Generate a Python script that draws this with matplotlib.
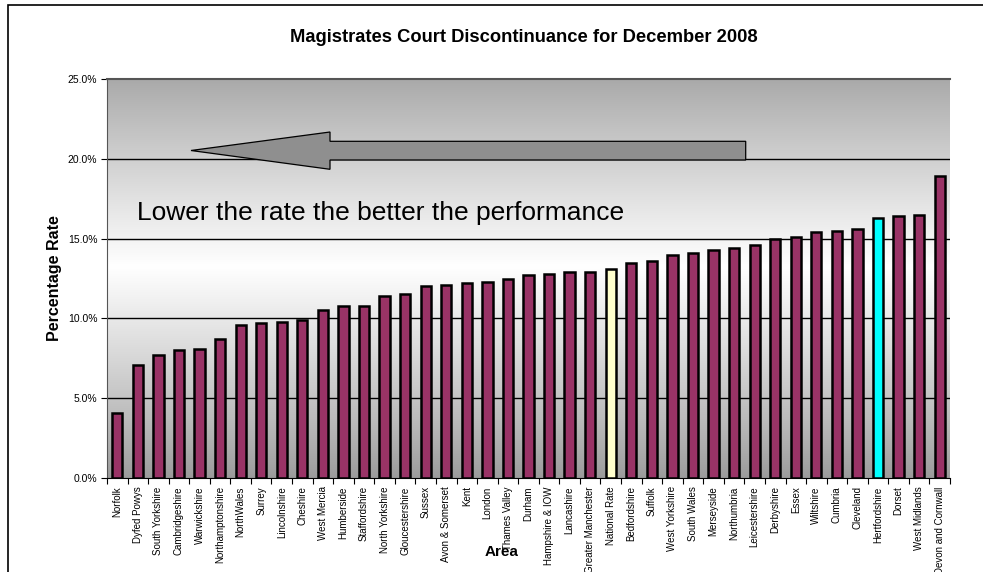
import numpy as np
import matplotlib.pyplot as plt
from matplotlib.patches import Polygon, Rectangle
from matplotlib.ticker import FuncFormatter, FixedLocator

plt.rcParams['font.family'] = ['Liberation Sans', 'DejaVu Sans']

# 数据：各地区的撤诉率（%）
areas = ["Norfolk", "Dyfed Powys", "South Yorkshire", "Cambridgeshire", "Warwickshire",
         "Northamptonshire", "NorthWales", "Surrey", "Lincolnshire", "Cheshire",
         "West Mercia", "Humberside", "Staffordshire", "North Yorkshire", "Gloucestershire",
         "Sussex", "Avon & Somerset", "Kent", "London", "Thames Valley",
         "Durham", "Hampshire & IOW", "Lancashire", "Greater Manchester", "National Rate",
         "Bedfordshire", "Suffolk", "West Yorkshire", "South Wales", "Merseyside",
         "Northumbria", "Leicestershire", "Derbyshire", "Essex", "Wiltshire",
         "Cumbria", "Cleveland", "Hertfordshire", "Dorset", "West Midlands",
         "Devon and Cornwall"]
rates = [4.1, 7.1, 7.7, 8.0, 8.1,
         8.7, 9.6, 9.7, 9.8, 9.9,
         10.5, 10.8, 10.8, 11.4, 11.5,
         12.0, 12.1, 12.2, 12.3, 12.5,
         12.7, 12.8, 12.9, 12.9, 13.1,
         13.5, 13.6, 14.0, 14.1, 14.3,
         14.4, 14.6, 15.0, 15.1, 15.4,
         15.5, 15.6, 16.3, 16.4, 16.5,
         18.9]
y_ticks = [0, 5, 10, 15, 20, 25]

# 特殊颜色
colors = []
for a in areas:
    if a == "National Rate":
        colors.append("#FFFFCC")
    elif a == "Hertfordshire":
        colors.append("#00FFFF")
    else:
        colors.append("#993366")

fig = plt.figure(figsize=(9.83, 5.72), dpi=100)
ax = fig.add_axes([107 / 983, 1 - 478 / 572, (950 - 107) / 983, (478 - 79) / 572])

# 外框（只看得到左边和上边）
fig.patches.append(Rectangle((8 / 983, -0.1), 1.2, 1 - 5 / 572 + 0.1, transform=fig.transFigure,
                             fill=False, edgecolor="black", linewidth=1.2))

x = np.arange(len(areas))
ax.set_xlim(-0.5, len(areas) - 0.5)
ax.set_ylim(0, 25)

# 背景渐变：上灰 -> 中白 -> 下灰
t = np.linspace(0, 1, 256)
c = 1 - np.abs(t - 0.47) / 0.53
shade = 0.61 + 0.39 * np.clip(c, 0, 1) ** 0.9
grad = np.repeat(shade[:, None], 2, axis=1)
grad = np.dstack([grad, grad, grad])
ax.imshow(grad, extent=[-0.5, len(areas) - 0.5, 0, 25], aspect="auto",
          zorder=0, origin="upper", interpolation="bilinear")

ax.bar(x, rates, width=0.5, color=colors, edgecolor="black", linewidth=1.8, zorder=3)

for v in y_ticks[1:-1]:
    ax.axhline(v, color="black", linewidth=1.0, zorder=1)

ax.yaxis.set_major_locator(FixedLocator(y_ticks))
ax.yaxis.set_major_formatter(FuncFormatter(lambda v, p: "%.1f%%" % v))
ax.tick_params(axis="y", labelsize=7.5, length=4, color="black", pad=3)

# x轴：刻度在分类之间，标签在中间
ax.set_xticks(np.arange(len(areas) + 1) - 0.5)
ax.set_xticklabels([])
ax.set_xticks(x, minor=True)
ax.set_xticklabels(areas, minor=True, rotation=90, fontsize=7)
ax.tick_params(axis="x", which="major", length=4, color="black")
ax.tick_params(axis="x", which="minor", length=0, pad=6)

for s in ["left", "top"]:
    ax.spines[s].set_color("#555555")
ax.spines["top"].set_linewidth(1.5)
ax.spines["bottom"].set_color("black")
ax.spines["right"].set_visible(False)

ax.set_ylabel("Percentage Rate", fontsize=11.5, fontweight="bold", labelpad=4)
fig.text(502 / 983, 1 - 552 / 572, "Area", fontsize=11, fontweight="bold", ha="center", va="center")
fig.text(524 / 983, 1 - 38 / 572, "Magistrates Court Discontinuance for December 2008",
         fontsize=13.2, fontweight="bold", ha="center", va="center")

# 左箭头（像素位置换算成图坐标）
def fp(px, py):
    return (px / 983, 1 - py / 572)

arrow_pts = [fp(191, 150.5), fp(330, 132), fp(330, 141.3), fp(745.7, 141.3),
             fp(745.7, 160), fp(330, 160), fp(330, 169.3)]
fig.patches.append(Polygon(arrow_pts, closed=True, transform=fig.transFigure,
                           facecolor="#8f8f8f", edgecolor="black", linewidth=0.9))

fig.text(137 / 983, 1 - 213 / 572, "Lower the rate the better the performance",
         fontsize=19, ha="left", va="center", color="black")

fig.savefig("out.png", dpi=100)
